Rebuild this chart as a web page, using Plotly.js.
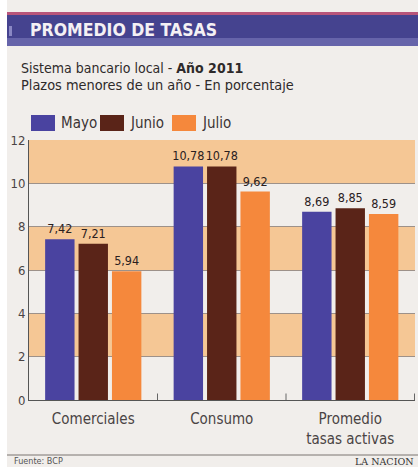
<!DOCTYPE html>
<html><head><meta charset="utf-8">
<script src="https://cdn.plot.ly/plotly-3.0.1.min.js"></script>
<style>html,body{margin:0;padding:0;background:#fff}#c{width:418px;height:467px}</style>
</head><body><div id="c"></div>
<script>
const categories = ["Comerciales", "Consumo", "Promedio<br>tasas activas"];
const seriesNames = ["Mayo", "Junio", "Julio"];
const mayo = [7.42, 10.78, 8.69];
const junio = [7.21, 10.78, 8.85];
const julio = [5.94, 9.62, 8.59];
const yTicks = [0, 2, 4, 6, 8, 10, 12];
const colors = ["#4a43a0", "#5a2418", "#f5883c"];

const F = "DejaVu Sans Condensed, Liberation Sans, sans-serif";
const values = [mayo, junio, julio];
const traces = values.map((v, i) => ({
  type: "bar", x: categories, y: v, name: seriesNames[i],
  marker: {color: colors[i]},
  text: v.map(n => n.toFixed(2).replace(".", ",")),
  textposition: "outside", cliponaxis: false, constraintext: "none",
  textfont: {family: F, size: 12.5, color: "#2a201e"},
  hoverinfo: "skip", showlegend: false
}));

// paper coordinate helpers (plot area px: x 29..415, y 140..400)
const px = x => (x - 29) / 386;
const py = y => (400 - y) / 260;

const shapes = [];
shapes.push({type: "rect", xref: "paper", yref: "paper", x0: px(0), x1: px(7), y0: py(467), y1: py(0), fillcolor: "#ffffff", line: {width: 0}, layer: "below"});
shapes.push({type: "rect", xref: "paper", yref: "paper", x0: px(7), x1: px(418), y0: py(46), y1: py(13), fillcolor: "#45438f", line: {width: 0}});
shapes.push({type: "rect", xref: "paper", yref: "paper", x0: px(7), x1: px(418), y0: py(46), y1: py(38), fillcolor: "#6664aa", line: {width: 0}});
shapes.push({type: "rect", xref: "paper", yref: "paper", x0: px(7), x1: px(418), y0: py(15), y1: py(12), fillcolor: "#b8557a", line: {width: 0}});
shapes.push({type: "rect", xref: "paper", yref: "paper", x0: px(9), x1: px(12), y0: py(36), y1: py(26), fillcolor: "#8a88c4", line: {width: 0}});
[[10, 12], [6, 8], [2, 4]].forEach(b => shapes.push({type: "rect", xref: "paper", yref: "y", x0: 0, x1: 1, y0: b[0], y1: b[1], fillcolor: "#f5c795", line: {width: 0}, layer: "below"}));
[0.5, 1.5, 2.5].forEach(x => shapes.push({type: "line", xref: "x", yref: "y", x0: x, x1: x, y0: 0, y1: 0.3, line: {color: "#666", width: 1}}));
const legX = [31, 100, 172];
legX.forEach((x, i) => shapes.push({type: "rect", xref: "paper", yref: "paper", x0: px(x), x1: px(x + 24), y0: py(131), y1: py(115), fillcolor: colors[i], line: {width: 0}}));
shapes.push({type: "line", xref: "paper", yref: "paper", x0: px(7), x1: px(418), y0: py(455), y1: py(455), line: {color: "#7a7470", width: 1}});

const annotations = [];
annotations.push({xref: "paper", yref: "paper", x: px(28), y: py(30), xanchor: "left", yanchor: "middle", showarrow: false,
  text: "<b>PROMEDIO DE TASAS</b>", font: {family: F, size: 17.5, color: "#f4f0f4"}});
annotations.push({xref: "paper", yref: "paper", x: px(19), y: py(68), xanchor: "left", yanchor: "middle", showarrow: false,
  text: "Sistema bancario local - <b>Año 2011</b>", font: {family: F, size: 14, color: "#2e2a2a"}});
annotations.push({xref: "paper", yref: "paper", x: px(19), y: py(85), xanchor: "left", yanchor: "middle", showarrow: false,
  text: "Plazos menores de un año - En porcentaje", font: {family: F, size: 14.4, color: "#2e2a2a"}});
legX.forEach((x, i) => annotations.push({xref: "paper", yref: "paper", x: px(x + 28), y: py(123), xanchor: "left", yanchor: "middle", showarrow: false,
  text: seriesNames[i], font: {family: F, size: 15, color: "#3a3434"}}));
annotations.push({xref: "paper", yref: "paper", x: px(12), y: py(461), xanchor: "left", yanchor: "middle", showarrow: false,
  text: "Fuente: BCP", font: {family: F, size: 9, color: "#555"}});
annotations.push({xref: "paper", yref: "paper", x: px(415), y: py(461), xanchor: "right", yanchor: "middle", showarrow: false,
  text: "LA NACION", font: {family: "DejaVu Serif, serif", size: 9.5, color: "#333"}});

const layout = {
  width: 418, height: 467,
  margin: {l: 29, r: 3, t: 140, b: 67},
  paper_bgcolor: "#f1eeeb", plot_bgcolor: "rgba(0,0,0,0)",
  separators: ",.",
  barmode: "group", bargap: 0.22, bargroupgap: 0.12,
  showlegend: false,
  xaxis: {tickfont: {family: F, size: 15, color: "#4a4444"}, showline: true, linecolor: "#555", linewidth: 1,
    ticks: "", ticklabelstandoff: 5, fixedrange: true},
  yaxis: {range: [0, 12], tickvals: yTicks, ticktext: yTicks.map(String), tickfont: {family: F, size: 13, color: "#4a4444"},
    showgrid: true, gridcolor: "#9d9189", gridwidth: 1, zeroline: false, showline: true, linecolor: "#555", linewidth: 1,
    ticks: "", ticklen: 0, fixedrange: true},
  shapes: shapes, annotations: annotations,
  font: {family: F}
};
Plotly.newPlot("c", traces, layout, {displayModeBar: false, staticPlot: true});
</script></body></html>
